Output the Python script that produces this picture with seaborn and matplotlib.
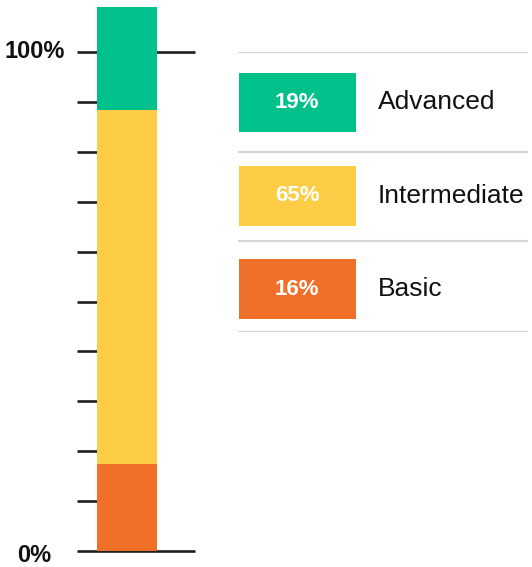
import matplotlib
matplotlib.use('Agg')
import matplotlib.pyplot as plt
import matplotlib.transforms as mtransforms
import seaborn as sns
import numpy as np

sns.set_style('white')
plt.rcParams['font.family'] = ['Liberation Sans', 'DejaVu Sans']

# data
levels = ['Basic', 'Intermediate', 'Advanced']
shares = [16, 65, 19]
colors = ['#F07029', '#FDCE45', '#00C18B']
tick_values = list(range(0, 101, 10))
tick_labels = {0: '0%', 100: '100%'}

W, H = 532, 567
fig = plt.figure(figsize=(W / 100, H / 100), dpi=100)

# tick axis (0%..100%)
ax_t = fig.add_axes([77 / W, (H - 551) / H, 118 / W, 499 / H])
ax_t.set_xlim(0, 1)
ax_t.set_ylim(0, 100)
ax_t.axis('off')
for v in tick_values:
    x1 = 1 if v in tick_labels else 20 / 118
    ax_t.hlines(v, 0, x1, color='#1e1e1e', lw=1.9, clip_on=False)
trans = ax_t.get_yaxis_transform()
for v, lab in tick_labels.items():
    tr = trans if v else mtransforms.offset_copy(trans, fig=fig, y=-5, units='dots')
    ax_t.text(-0.36, v, lab, transform=tr, ha='center', va='center',
              fontsize=17, fontweight='bold', color='#111111')

# stacked bar
ax_b = fig.add_axes([97 / W, (H - 551) / H, 60 / W, 544 / H])
cum = np.cumsum(shares)
for c, col in zip(cum[::-1], colors[::-1]):
    sns.barplot(x=['all'], y=[c], color=col, width=1, saturation=1,
                linewidth=0, edgecolor=col, ax=ax_b)
ax_b.set_xlim(-0.5, 0.5)
ax_b.set_ylim(0, 100)
ax_b.axis('off')

# legend panel
ax_l = fig.add_axes([238 / W, (H - 332) / H, 290 / W, 280 / H])
ax_l.set_xlim(0, 290)
ax_l.set_ylim(3, 0)
ax_l.axis('off')
rows = np.arange(len(levels)) + 0.54
order = levels[::-1]
vals = shares[::-1]
cols = colors[::-1]
for r in [0, 1.07, 2.03, 3]:
    ax_l.axhline(r, color='#D4D4D4', lw=1.6)
ax_l.barh(rows, 117, left=1, height=0.64, color=cols, linewidth=0)
for r, lab, v in zip(rows, order, vals):
    ax_l.text(59, r, f'{v}%', ha='center', va='center', color='white',
              fontsize=16, fontweight='bold')
    ax_l.text(140, r, lab, ha='left', va='center', color='#111111', fontsize=19)

fig.savefig('out.png', dpi=100)
